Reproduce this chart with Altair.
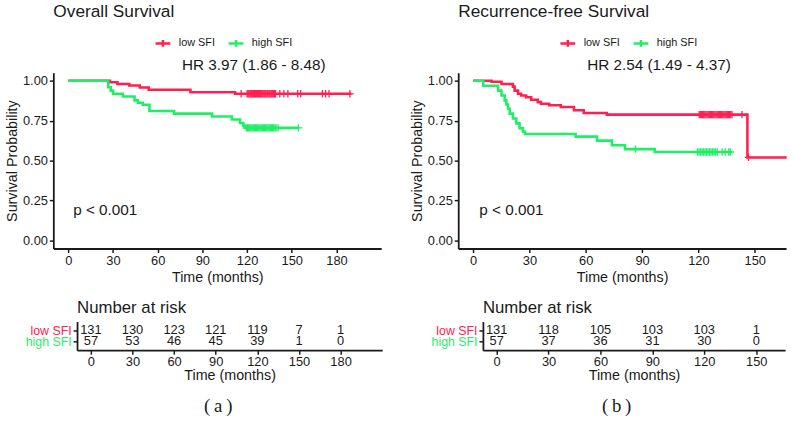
import altair as alt
import pandas as pd

RED = "#FF2052"
GREEN = "#1FEE66"
INK = "#1a1a1a"
FONT = "Liberation Sans"
GROUPS = ["low SFI", "high SFI"]

# ---- Overall survival (months, survival probability), step curves ----
os_low_t = [0, 28, 33, 41, 48, 54, 82, 112, 190]
os_low_s = [1.0, 0.99, 0.98, 0.97, 0.957, 0.943, 0.928, 0.918, 0.918]
os_high_t = [0, 26.8, 28.5, 30.1, 36.7, 44.5, 46.7, 50, 54.5, 71, 96.5, 109.8, 115.3, 117.5, 118.7, 154.5]
os_high_s = [1.0, 0.959, 0.938, 0.918, 0.901, 0.877, 0.862, 0.85, 0.81, 0.794, 0.776, 0.757, 0.735, 0.718, 0.705, 0.705]
os_low_cens = [116, 120, 120.6, 121.2, 121.9, 122.5, 123.1, 123.8, 124.4, 125, 125.7, 126.3, 127,
               127.6, 128.3, 128.9, 129.5, 130.2, 130.8, 131.5, 132.1, 132.7, 133.4, 134, 134.7,
               135.3, 136, 136.6, 137.2, 137.9, 138.5, 139.1, 142, 144.7, 147.4, 154, 156, 170.6,
               172.7, 175, 189]
os_high_cens = [119.5, 120.3, 121, 121.8, 122.6, 123.3, 124.1, 124.9, 125.6, 126.4, 127.2, 127.9,
                128.7, 129.5, 130.2, 131, 131.8, 132.5, 133.3, 134.1, 134.8, 135.6, 136.4, 137.1,
                137.9, 138.7, 139.5, 140.8, 154.5]

# ---- Recurrence-free survival ----
rfs_low_t = [0, 9.8, 15.1, 21.2, 22.1, 23.9, 25.6, 28.2, 30.9, 34.4, 36.1, 40.5, 46.7, 53.7, 58.9,
             71.2, 146.1, 167]
rfs_low_s = [1.0, 0.993, 0.98, 0.963, 0.938, 0.918, 0.907, 0.897, 0.881, 0.866, 0.856, 0.846, 0.835,
             0.815, 0.798, 0.788, 0.52, 0.52]
rfs_high_t = [0, 5.4, 13.3, 15.1, 16.8, 17.7, 18.6, 19.5, 21.2, 23, 24.7, 26.5, 27.7, 54.6, 66, 73.9,
              80.9, 96.7, 137]
rfs_high_s = [1.0, 0.969, 0.938, 0.907, 0.877, 0.851, 0.825, 0.794, 0.763, 0.733, 0.702, 0.681,
              0.667, 0.65, 0.625, 0.596, 0.572, 0.554, 0.554]
rfs_low_cens = [120.4, 121, 121.6, 122.2, 122.8, 123.4, 124, 124.6, 125.2, 125.8, 126.4, 127, 127.6,
                128.2, 128.8, 129.4, 130, 130.6, 131.2, 131.8, 132.4, 133, 133.6, 134.2, 134.8,
                135.4, 136, 136.6, 137.2, 137.9, 143.2, 146.7]
rfs_high_cens = [86.5, 119.5, 120.3, 121.1, 121.9, 122.7, 123.5, 124.3, 125.1, 125.9, 126.7, 127.5,
                 128.3, 129.1, 130, 132.6, 134.3, 136.1, 137]

# ---- Number at risk ----
os_risk_t = [0, 30, 60, 90, 120, 150, 180]
os_risk_low = [131, 130, 123, 121, 119, 7, 1]
os_risk_high = [57, 53, 46, 45, 39, 1, 0]
rfs_risk_t = [0, 30, 60, 90, 120, 150]
rfs_risk_low = [131, 118, 105, 103, 103, 1]
rfs_risk_high = [57, 37, 36, 31, 30, 0]

# ---- annotations ----
os_hr = "HR 3.97 (1.86 - 8.48)"
rfs_hr = "HR 2.54 (1.49 - 4.37)"
p_text = "p < 0.001"

CROSS = "M0,-1V1M-1,0H1"
LEGEND_SYMBOL = "M-1,0H1M0,-0.45V0.45"


def step_at(times, surv, t):
    s = surv[0]
    for ti, si in zip(times, surv):
        if ti <= t:
            s = si
    return s


def survival_panel(title, low, high, low_cens, high_cens, xdom, ticks, hr, hr_x):
    curves_low = pd.DataFrame({"time": low[0], "surv": low[1], "group": "low SFI"})
    curves_high = pd.DataFrame({"time": high[0], "surv": high[1], "group": "high SFI"})
    cens = pd.DataFrame({
        "time": low_cens + high_cens,
        "surv": [step_at(low[0], low[1], t) for t in low_cens]
        + [step_at(high[0], high[1], t) for t in high_cens],
        "group": ["low SFI"] * len(low_cens) + ["high SFI"] * len(high_cens),
    })
    x = alt.X("time:Q", scale=alt.Scale(domain=xdom, nice=False, zero=False),
              axis=alt.Axis(values=ticks, title="Time (months)"))
    y = alt.Y("surv:Q", scale=alt.Scale(domain=[-0.05, 1.05], nice=False, zero=False),
              axis=alt.Axis(values=[0, 0.25, 0.5, 0.75, 1.0], format=".2f",
                            title="Survival Probability"))
    color = alt.Color("group:N", scale=alt.Scale(domain=GROUPS, range=[RED, GREEN]),
                      legend=alt.Legend(orient="none", legendX=155, legendY=-39,
                                        direction="horizontal", title=None,
                                        symbolType=LEGEND_SYMBOL, symbolSize=225,
                                        symbolStrokeWidth=2.5, labelFontSize=11,
                                        labelFont=FONT, labelColor=INK,
                                        labelOffset=7, columnPadding=8))
    line_low = alt.Chart(curves_low).mark_line(interpolate="step-after", strokeWidth=2.6).encode(
        x=x, y=y, color=color)
    line_high = alt.Chart(curves_high).mark_line(interpolate="step-after", strokeWidth=2.6).encode(
        x=x, y=y, color=color)
    marks = alt.Chart(cens).mark_point(shape=CROSS, filled=False, size=56, strokeWidth=1.3,
                                       opacity=1).encode(x=x, y=y, color=color)
    hr_df = pd.DataFrame({"time": [hr_x], "surv": [1.065], "label": [hr]})
    hr_text = alt.Chart(hr_df).mark_text(fontSize=15.5, font=FONT, color=INK, align="center",
                                         baseline="alphabetic").encode(x=x, y=y, text="label:N")
    p_df = pd.DataFrame({"time": [3.3], "surv": [0.16], "label": [p_text]})
    p_mark = alt.Chart(p_df).mark_text(fontSize=15.5, font=FONT, color=INK, align="left",
                                       baseline="alphabetic").encode(x=x, y=y, text="label:N")
    return alt.layer(line_low, line_high, marks, hr_text, p_mark).properties(
        width=332, height=178,
        title=alt.TitleParams(title, anchor="start", frame="group", fontSize=17.5,
                              fontWeight="normal", font=FONT, color=INK, offset=38))


def risk_panel(times, low_n, high_n, xdom, ticks, width):
    df = pd.DataFrame({
        "time": times + times,
        "n": low_n + high_n,
        "group": ["low SFI"] * len(times) + ["high SFI"] * len(times),
    })
    return alt.Chart(df).mark_text(fontSize=13, font=FONT, color=INK).encode(
        x=alt.X("time:Q", scale=alt.Scale(domain=xdom, nice=False, zero=False),
                axis=alt.Axis(values=ticks, title="Time (months)", labelPadding=1,
                              titlePadding=1)),
        y=alt.Y("group:N", scale=alt.Scale(domain=GROUPS, type="point", padding=0.82),
                axis=alt.Axis(title=None, labelFontSize=12.5, labelPadding=2,
                              labelColor={"condition": {"test": "datum.value === 'low SFI'",
                                                        "value": RED},
                                          "value": GREEN})),
        text="n:Q",
    ).properties(
        width=width, height=29,
        title=alt.TitleParams("Number at risk", anchor="start", frame="group", fontSize=17,
                              fontWeight="normal", font=FONT, color=INK, offset=5))


def spacer(w):
    return alt.Chart(pd.DataFrame({"v": [0]})).mark_rule(opacity=0).encode(
        x=alt.value(0), y=alt.value(0), y2=alt.value(1)).properties(width=w, height=1)


os_main = survival_panel("Overall Survival", (os_low_t, os_low_s), (os_high_t, os_high_s),
                         os_low_cens, os_high_cens, [-10, 210], [0, 30, 60, 90, 120, 150, 180],
                         os_hr, 124.5)
rfs_main = survival_panel("Recurrence-free Survival", (rfs_low_t, rfs_low_s),
                          (rfs_high_t, rfs_high_s), rfs_low_cens, rfs_high_cens,
                          [-7.94, 166.7], [0, 30, 60, 90, 120, 150], rfs_hr, 99)
os_risk = risk_panel(os_risk_t, os_risk_low, os_risk_high, [-10, 210],
                     [0, 30, 60, 90, 120, 150, 180], 309)
rfs_risk = risk_panel(rfs_risk_t, rfs_risk_low, rfs_risk_high, [-7.94, 166.7],
                      [0, 30, 60, 90, 120, 150], 306)


def column(main, risk, main_gap, risk_gap, label, dx):
    # leading gaps set the horizontal offset of the risk table against the survival plot
    return alt.vconcat(
        alt.hconcat(spacer(main_gap), main, spacing=0),
        alt.hconcat(spacer(risk_gap), risk, spacing=0),
        spacing=14,
    ).properties(title=alt.TitleParams(label, orient="bottom", anchor="middle", dx=dx,
                                       fontSize=19, fontWeight="normal",
                                       font="Liberation Serif", color=INK, offset=15))


chart = alt.hconcat(
    column(os_main, os_risk, 2, 22, "(\u2009a\u2009)", 27),
    column(rfs_main, rfs_risk, 2, 23, "(\u2009b\u2009)", 18),
    spacing=22,
).resolve_scale(
    color="independent"
).resolve_legend(
    color="independent"
).properties(
    padding={"left": 0, "top": 0, "right": 0, "bottom": 0}
).configure_view(
    stroke="transparent"
).configure_axis(
    grid=False,
    domainColor=INK, domainWidth=1.8, tickColor=INK, tickWidth=1.5, tickSize=4,
    labelFont=FONT, labelFontSize=13, labelColor=INK, labelPadding=2,
    titleFont=FONT, titleFontSize=14.5, titleFontWeight="normal", titleColor=INK,
    titlePadding=3,
).configure_title(anchor="start")

chart.save("out.html", embed_options={"renderer": "svg", "actions": False})
